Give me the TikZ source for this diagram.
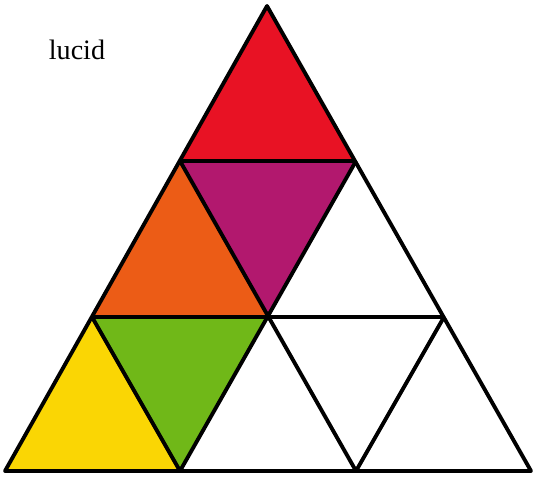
\documentclass[tikz,border=0pt]{standalone}
\usepackage{tikz}
\usepackage{fontspec}
\setmainfont{Liberation Serif}
\definecolor{lucidred}{RGB}{232,18,36}
\definecolor{lucidpurple}{RGB}{178,24,110}
\definecolor{lucidorange}{RGB}{236,92,22}
\definecolor{lucidgreen}{RGB}{112,184,24}
\definecolor{lucidyellow}{RGB}{250,214,4}

\begin{document}
\begin{tikzpicture}[x=0.02cm, y=-0.02cm, line join=round,
  edge/.style={draw=black, line width=2.2pt},
  every node/.style={font=\fontsize{16}{19}\selectfont}]
  \useasboundingbox (0,0) rectangle (540,482);
  % lattice points, row by row
  \coordinate (a)  at (267,6);
  \coordinate (b1) at (180,161);
  \coordinate (b2) at (356,161);
  \coordinate (c1) at (92,317);
  \coordinate (c2) at (268,317);
  \coordinate (c3) at (444,317);
  \coordinate (d1) at (5,471);
  \coordinate (d2) at (180,471);
  \coordinate (d3) at (356,471);
  \coordinate (d4) at (531,471);
  % coloured cells
  \fill[lucidred]    (a) -- (b1) -- (b2) -- cycle;
  \fill[lucidpurple] (b1) -- (b2) -- (c2) -- cycle;
  \fill[lucidorange] (b1) -- (c1) -- (c2) -- cycle;
  \fill[lucidgreen]  (c1) -- (c2) -- (d2) -- cycle;
  \fill[lucidyellow] (c1) -- (d1) -- (d2) -- cycle;
  % grid
  \draw[edge] (a) -- (d1) -- (d4) -- cycle;
  \draw[edge] (b1) -- (b2);
  \draw[edge] (c1) -- (c3);
  \draw[edge] (b1) -- (d3);
  \draw[edge] (c1) -- (d2);
  \draw[edge] (b2) -- (d2);
  \draw[edge] (c3) -- (d3);
  \node[anchor=base] (lbl) at (77,60) {lucid};
\end{tikzpicture}
\end{document}
